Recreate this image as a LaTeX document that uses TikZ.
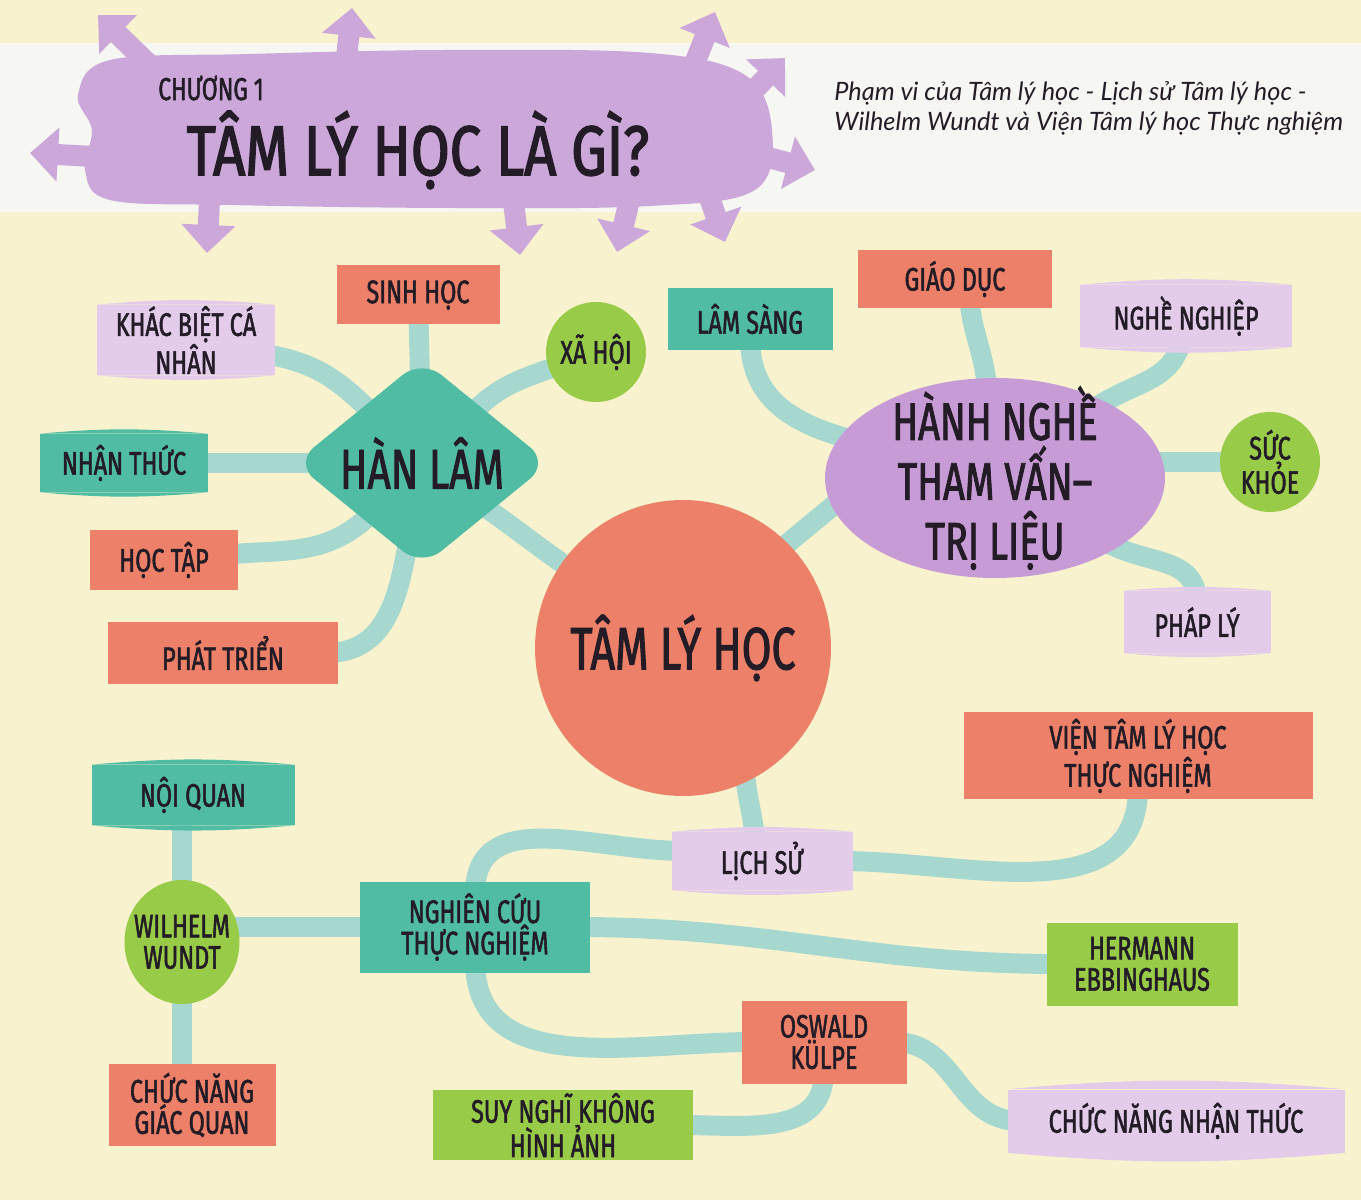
\documentclass[tikz,border=0pt]{standalone}
\usepackage{fontspec}
\usetikzlibrary{shapes.geometric,arrows.meta}
\newfontfamily\capsfont{Fira Sans}[FakeStretch=0.72, FakeBold=1.6]
\newfontfamily\titlefont{Fira Sans}[FakeStretch=0.8, FakeBold=2]
\newfontfamily\notefont{Lato}

\definecolor{paper}{RGB}{248,243,206}
\definecolor{band}{RGB}{246,246,242}
\definecolor{salmon}{RGB}{236,128,104}
\definecolor{tealbox}{RGB}{80,188,163}
\definecolor{lilac}{RGB}{226,204,234}
\definecolor{violetbox}{RGB}{199,156,214}
\definecolor{leaf}{RGB}{152,204,72}
\definecolor{linkc}{RGB}{166,216,208}
\definecolor{blobc}{RGB}{204,168,218}
\definecolor{ink}{RGB}{35,28,38}

\pgfdeclarelayer{paper}
\pgfdeclarelayer{links}
\pgfsetlayers{paper,links,main}

\tikzset{
  lbl/.style={font=\capsfont\fontsize{18.5}{17.8}\selectfont, text=ink, align=center, inner sep=0pt},
  boxsize/.style 2 args={minimum width=#1*0.02cm, minimum height=#2*0.02cm},
  card/.style={lbl, rectangle, fill=#1},
  barrel/.style={lbl, rectangle, fill=#1, append after command={\pgfextra{
      \fill[#1] (\tikzlastnode.north west) to[bend left=5] (\tikzlastnode.north east) -- cycle;
      \fill[#1] (\tikzlastnode.south west) to[bend right=5] (\tikzlastnode.south east) -- cycle;}}},
  disc/.style={lbl, circle, fill=#1},
  link/.style={draw=linkc, line width=0.4cm, shorten <=-0.25cm, shorten >=-0.25cm},
  fatarrow/.style={draw=blobc, line width=0.42cm, -{Triangle[length=0.56cm,width=1.05cm]}},
}

\begin{document}
\begin{tikzpicture}[x=0.02cm, y=0.02cm]
\useasboundingbox (0,0) rectangle (1361,1200);
\begin{pgfonlayer}{paper}
  \fill[paper] (0,0) rectangle (1361,1200);
  \fill[band] (0,988) rectangle (1361,1157);
\end{pgfonlayer}

% title blob
\draw[fatarrow] (165,1120) -- (98,1185);
\draw[fatarrow] (345,1130) -- (352,1192);
\draw[fatarrow] (690,1125) -- (715,1188);
\draw[fatarrow] (735,1090) -- (785,1142);
\draw[fatarrow] (740,1050) -- (815,1030);
\draw[fatarrow] (705,1015) -- (725,958);
\draw[fatarrow] (632,1010) -- (617,948);
\draw[fatarrow] (512,1010) -- (520,945);
\draw[fatarrow] (210,1010) -- (207,947);
\draw[fatarrow] (120,1042) -- (30,1047);
\fill[blobc] plot[smooth cycle, tension=0.6] coordinates {(78,1105) (110,1140) (250,1146) (450,1150) (650,1147) (745,1125)
  (772,1070) (755,1010) (650,994) (450,992) (230,995) (110,1000) (85,1030) (92,1070)};
\node[font=\capsfont\fontsize{18}{19}\selectfont, text=ink, anchor=west, inner sep=0pt] (chapter) at (158,1112) {CHƯƠNG 1};
\node[font=\titlefont\fontsize{40}{42}\selectfont, text=ink, inner sep=0pt] (title) at (418,1050) {TÂM LÝ HỌC LÀ GÌ?};
\node[font=\notefont\itshape\fontsize{14.4}{17}\selectfont, text=ink, align=left, anchor=north west, inner sep=0pt] (subtitle) at (834,1119)
  {Phạm vi của Tâm lý học - Lịch sử Tâm lý học -\\Wilhelm Wundt và Viện Tâm lý học Thực nghiệm};

% academic branch
\node[card=salmon, boxsize={163}{59}] (sinh) at (418,905) {SINH HỌC};
\node[barrel=lilac, boxsize={178}{70}] (khac) at (186,860) {KHÁC BIỆT CÁ\\NHÂN};
\node[disc=leaf, minimum size=2cm] (xahoi) at (596,848) {XÃ HỘI};
\node[barrel=tealbox, boxsize={168}{58}] (nhanthuc) at (124,737) {NHẬN THỨC};
\node[lbl, diamond, fill=tealbox, aspect=1.23, boxsize={255}{208}, rounded corners=0.5cm,
  font=\capsfont\fontsize{32}{34}\selectfont] (hanlam) at (422,737) {HÀN LÂM};
\node[card=salmon, boxsize={148}{60}] (hoctap) at (164,640) {HỌC TẬP};
\node[card=salmon, boxsize={230}{62}] (phattrien) at (223,547) {PHÁT TRIỂN};

% centre
\node[disc=salmon, minimum size=5.92cm, font=\capsfont\fontsize{34}{36}\selectfont] (tamly) at (683,552) {TÂM LÝ HỌC};

% practice branch
\node[card=tealbox, boxsize={165}{62}] (lamsang) at (750,881) {LÂM SÀNG};
\node[card=salmon, boxsize={194}{58}] (giaoduc) at (955,921) {GIÁO DỤC};
\node[barrel=lilac, boxsize={212}{62}] (nghenghiep) at (1186,884) {NGHỀ NGHIỆP};
\node[ellipse, fill=violetbox, boxsize={340}{200}, inner sep=0pt] (hanhnghe) at (995,722) {};
\node[lbl, font=\capsfont\fontsize{30}{34}\selectfont] (hanhnghetext) at (hanhnghe) {HÀNH NGHỀ\\THAM VẤN–\\TRỊ LIỆU};
\node[disc=leaf, minimum size=2cm] (suckhoe) at (1270,738) {SỨC\\KHỎE};
\node[barrel=lilac, boxsize={147}{62}] (phaply) at (1197,578) {PHÁP LÝ};

% history branch
\node[card=salmon, boxsize={349}{87}] (vien) at (1138,444) {VIỆN TÂM LÝ HỌC\\THỰC NGHIỆM};
\node[barrel=lilac, boxsize={181}{58}] (lichsu) at (762,339) {LỊCH SỬ};
\node[barrel=tealbox, boxsize={203}{60}] (noiquan) at (193,405) {NỘI QUAN};
\node[ellipse, fill=leaf, boxsize={115}{124}, inner sep=0pt] (wundt) at (182,258) {};
\node[lbl] (wundttext) at (wundt) {WILHELM\\WUNDT};
\node[card=tealbox, boxsize={230}{91}] (nghiencuu) at (475,273) {NGHIÊN CỨU\\THỰC NGHIỆM};
\node[card=leaf, boxsize={191}{83}] (hermann) at (1142,236) {HERMANN\\EBBINGHAUS};
\node[card=salmon, boxsize={165}{83}] (kulpe) at (824,158) {OSWALD\\KÜLPE};
\node[card=salmon, boxsize={167}{82}] (giacquan) at (192,95) {CHỨC NĂNG\\GIÁC QUAN};
\node[card=leaf, boxsize={260}{70}] (suynghi) at (563,75) {SUY NGHĨ KHÔNG\\HÌNH ẢNH};
\node[barrel=lilac, boxsize={337}{63}] (cnnt) at (1176,79) {CHỨC NĂNG NHẬN THỨC};

\begin{pgfonlayer}{links}
  \draw[link] (sinh) -- (hanlam.center);
  \draw[link] (khac) to[out=-10,in=135] (hanlam);
  \draw[link] (xahoi) to[out=200,in=45] (hanlam);
  \draw[link] (nhanthuc) -- (hanlam.center);
  \draw[link] (hoctap) to[out=5,in=225] (hanlam);
  \draw[link] (phattrien) to[out=0,in=-100] (hanlam);
  \draw[link] (hanlam) to[out=-35,in=145] (tamly);
  \draw[link] (tamly.45) -- (hanhnghe.190);
  \draw[link] (lamsang) to[out=-90,in=165] (hanhnghe);
  \draw[link] ([xshift=0.3cm]giaoduc.south) to[out=-85,in=95] (hanhnghe.95);
  \draw[link] (nghenghiep) to[out=-100,in=35] (hanhnghe);
  \draw[link] (suckhoe) -- (hanhnghe.center |- suckhoe);
  \draw[link] (hanhnghe) to[out=-30,in=90] (phaply);
  \draw[link] (tamly.-65) to[out=-85,in=95] ([xshift=-0.15cm]lichsu.north);
  \draw[link] (lichsu) to[out=0,in=-90] (vien);
  \draw[link] ([yshift=0.2cm]lichsu.west) to[out=180,in=90] (nghiencuu);
  \draw[link] (nghiencuu) -- (nghiencuu -| wundt);
  \draw[link] (wundt) -- (wundt |- noiquan);
  \draw[link] (wundt) -- (wundt |- giacquan);
  \draw[link] (nghiencuu.east) to[out=0,in=180] (hermann.west);
  \draw[link] (nghiencuu) to[out=-90,in=180] (kulpe);
  \draw[link] (kulpe) to[out=-90,in=0] (suynghi);
  \draw[link] (kulpe) to[out=0,in=180] (cnnt);
\end{pgfonlayer}
\end{tikzpicture}
\end{document}
